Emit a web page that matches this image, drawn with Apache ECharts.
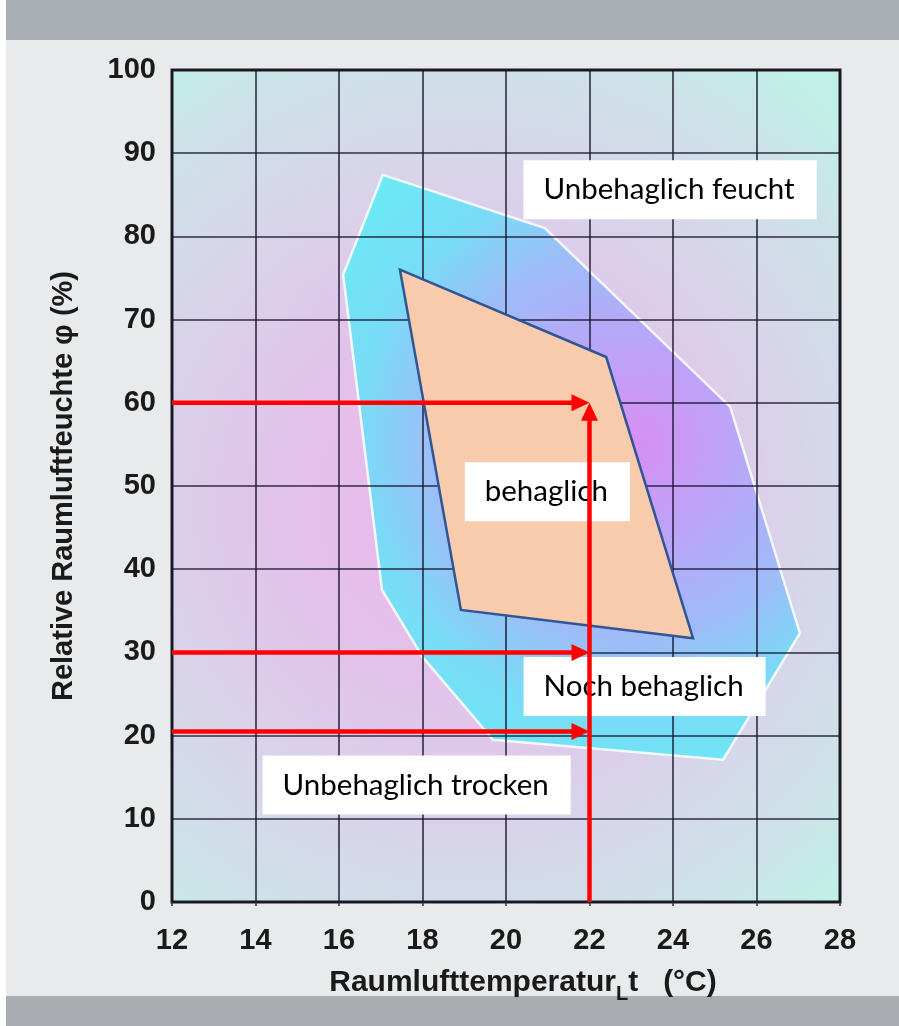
<!DOCTYPE html>
<html><head><meta charset="utf-8">
<script src="https://cdn.jsdelivr.net/npm/echarts@6/dist/echarts.min.js"></script>
<style>
html,body{margin:0;padding:0;width:899px;height:1026px;overflow:hidden;background:#fff;}
#bg{position:absolute;left:6px;top:0;width:893px;height:1026px;background:#e8eaeb;}
#topbar{position:absolute;left:6px;top:0;width:893px;height:40px;background:#a9aeb4;}
#botbar{position:absolute;left:6px;top:996px;width:893px;height:30px;background:#a9adb2;}
#chart{position:absolute;left:0;top:0;width:899px;height:1026px;}
</style></head><body>
<div id="bg"></div><div id="topbar"></div><div id="botbar"></div>
<div id="chart"></div>
<script>
// ---- data ----
const xMin = 12, xMax = 28, xStep = 2;
const yMin = 0, yMax = 100, yStep = 10;
const xAxisName = 'Raumlufttemperatur';
const xAxisSub = 'L';
const xAxisTail = 't   (°C)';
const yAxisName = 'Relative Raumluftfeuchte φ (%)';
// outer "noch behaglich" zone (temperature °C, rel. humidity %)
const outerZone = [[17.05,87.4],[20.93,81.0],[25.37,59.5],[27.04,32.3],[25.2,17.1],[19.69,19.5],[18.01,29.4],[17.03,37.5],[16.1,75.4]];
// inner "behaglich" zone
const comfortZone = [[17.46,76.0],[22.4,65.5],[24.48,31.7],[18.92,35.1]];
// red reading arrows: [x0, y0, x1, y1]
const arrowLines = [[12,60,22,60],[12,30,22,30],[12,20.5,22,20.5],[22,0,22,60]];
// zone annotations
const zoneLabels = ['Unbehaglich feucht','behaglich','Noch behaglich','Unbehaglich trocken'];
const zoneLabelPos = [[23.93,85.6],[20.99,49.3],[23.32,25.9],[17.86,14.06]];

const chart = echarts.init(document.getElementById('chart'));
const axisFont = 'Liberation Sans, Arial, sans-serif';

function polygonSeries(points, styleFn, z) {
  return {
    type: 'custom', z: z, silent: true, clip: false,
    data: [[20, 50]],
    renderItem: function (params, api) {
      return {
        type: 'polygon',
        shape: { points: points.map(function (p) { return api.coord(p); }) },
        style: styleFn()
      };
    }
  };
}

const option = {
  animation: false,
  backgroundColor: 'transparent',
  grid: {
    left: 172, top: 70, width: 668, height: 832, z: -10,
    show: true, borderColor: '#1e1e1e', borderWidth: 3,
    backgroundColor: new echarts.graphic.RadialGradient(0.44, 0.52, 0.8, [
      { offset: 0, color: '#eeb6ec' },
      { offset: 0.35, color: '#e2c2ea' },
      { offset: 0.62, color: '#d8d4ea' },
      { offset: 0.85, color: '#cde2e8' },
      { offset: 1, color: '#c0f0e6' }
    ])
  },
  xAxis: {
    type: 'value', min: xMin, max: xMax, interval: xStep,
    axisLine: { show: false },
    axisTick: { show: true, length: 4, lineStyle: { color: '#333', width: 1.5 } },
    splitLine: { show: true, lineStyle: { color: 'rgba(25,20,45,0.88)', width: 1.6 } },
    axisLabel: { margin: 24, color: '#1a1a1a', fontFamily: axisFont, fontWeight: 'bold', fontSize: 29 },
    name: '{a|' + xAxisName + '}{s|' + xAxisSub + '}{a|' + xAxisTail + '}',
    nameLocation: 'middle', nameGap: 66,
    nameTextStyle: {
      padding: [0, 0, 0, 34],
      rich: {
        a: { fontFamily: axisFont, fontWeight: 'bold', fontSize: 30, color: '#1a1a1a', lineHeight: 34, verticalAlign: 'top' },
        s: { fontFamily: axisFont, fontWeight: 'bold', fontSize: 20, color: '#1a1a1a', lineHeight: 34, verticalAlign: 'top', padding: [16, 0, 0, 0] }
      }
    }
  },
  yAxis: {
    type: 'value', min: yMin, max: yMax, interval: yStep,
    axisLine: { show: false },
    axisTick: { show: false },
    splitLine: { show: true, lineStyle: { color: 'rgba(25,20,45,0.88)', width: 1.6 } },
    axisLabel: { margin: 16, color: '#1a1a1a', fontFamily: axisFont, fontWeight: 'bold', fontSize: 29 },
    name: yAxisName, nameLocation: 'middle', nameGap: 94,
    nameTextStyle: { fontFamily: axisFont, fontWeight: 'bold', fontSize: 29, color: '#1a1a1a' }
  },
  series: [
    polygonSeries(outerZone, function () {
      return {
        fill: new echarts.graphic.RadialGradient(0.63, 0.46, 0.85, [
          { offset: 0, color: '#d88ef4' },
          { offset: 0.25, color: '#bca4f8' },
          { offset: 0.5, color: '#9ebcf8' },
          { offset: 0.7, color: '#78dcf6' },
          { offset: 1, color: '#66eef4' }
        ]),
        stroke: 'rgba(250,252,255,0.9)', lineWidth: 2.5
      };
    }, -5),
    polygonSeries(comfortZone, function () {
      return { fill: '#f7cbab', stroke: '#2f5597', lineWidth: 2.5, lineJoin: 'miter' };
    }, 3),
    {
      type: 'scatter', z: 5, silent: true, symbolSize: 1,
      itemStyle: { color: 'rgba(0,0,0,0)', opacity: 1 },
      data: zoneLabels.map(function (n, i) { return { name: n, value: zoneLabelPos[i] }; }),
      label: {
        show: true, position: 'inside', formatter: '{b}', opacity: 1,
        backgroundColor: '#ffffff', padding: [15, 22, 15, 20],
        fontFamily: 'Lato, Open Sans, sans-serif', fontSize: 29.5, lineHeight: 29, color: '#000'
      }
    },
    {
      type: 'custom', z: 8, silent: true, clip: false,
      data: arrowLines,
      encode: { x: [0, 2], y: [1, 3] },
      renderItem: function (params, api) {
        const p0 = api.coord([api.value(0), api.value(1)]);
        const p1 = api.coord([api.value(2), api.value(3)]);
        const dx = p1[0] - p0[0], dy = p1[1] - p0[1];
        const len = Math.sqrt(dx * dx + dy * dy);
        const ux = dx / len, uy = dy / len;
        const head = 18, half = 8.5;
        const bx = p1[0] - ux * head, by = p1[1] - uy * head;
        return {
          type: 'group',
          children: [
            { type: 'line', shape: { x1: p0[0], y1: p0[1], x2: bx + ux * 2, y2: by + uy * 2 },
              style: { stroke: '#ff0000', lineWidth: 4.5 } },
            { type: 'polygon', shape: { points: [[p1[0], p1[1]], [bx - uy * half, by + ux * half], [bx + uy * half, by - ux * half]] },
              style: { fill: '#ff0000' } }
          ]
        };
      }
    }
  ]
};
chart.setOption(option);
</script>
</body></html>
